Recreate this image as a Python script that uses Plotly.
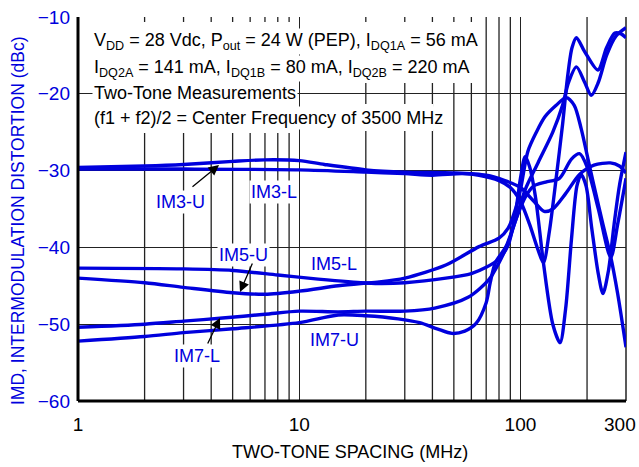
import plotly.graph_objects as go

# ---------------- data (MHz, dBc) ----------------
im3u_f = [1, 2, 3, 5, 7, 10, 13, 20, 30, 50, 70, 85, 100, 115, 128, 140, 160, 185, 215, 255, 280, 300]
im3u_db = [-29.6, -29.4, -29.2, -28.8, -28.6, -28.7, -29.2, -29.9, -30.2, -30.3, -30.6, -31.3, -32.2, -34.0,
           -35.3, -35.0, -33.0, -30.5, -29.3, -29.0, -29.4, -30.3]

im3l_f = [1, 3, 10, 20, 30, 40, 55, 65, 80, 90, 100, 110, 120, 127, 135, 145, 155, 163, 171, 179, 195, 224, 245,
          267, 285, 300]
im3l_db = [-29.8, -29.8, -29.9, -30.2, -30.4, -30.6, -30.4, -30.6, -31.3, -32.2, -34.0, -37.0, -40.3, -42.0,
           -38.0, -31.0, -24.0, -18.0, -14.0, -12.7, -14.5, -16.9, -14.0, -12.1, -12.2, -12.7]

im5u_f = [1, 2, 3, 5, 7, 10, 15, 19, 23, 30, 46, 65, 80, 88, 95, 100, 108, 118, 129, 145, 161, 175, 188, 202,
          215, 236, 255, 275, 300]
im5u_db = [-44.0, -44.6, -45.2, -45.9, -46.1, -45.7, -45.0, -44.7, -44.5, -44.0, -42.3, -39.9, -38.8, -37.5,
           -35.0, -32.5, -27.5, -25.0, -23.0, -21.5, -20.5, -21.5, -24.5, -28.5, -32.0, -37.0, -41.0, -46.0, -53.0]

im5l_f = [1, 3, 5, 8, 11, 19, 23, 30, 46, 60, 70, 80, 88, 95, 100, 105, 110, 117, 127, 140, 151, 160, 170, 180,
          188, 198, 210, 225, 236, 250, 265, 280, 300]
im5l_db = [-42.7, -42.8, -43.0, -43.6, -44.0, -44.6, -44.7, -44.6, -44.0, -43.4, -42.6, -41.5, -39.7, -35.5,
           -31.0, -28.2, -29.5, -33.5, -42.0, -50.0, -52.4, -48.0, -39.0, -32.0, -30.5, -32.0, -37.5, -43.5,
           -46.0, -43.0, -37.0, -32.0, -27.6]

im7l_f = [1, 2, 3, 4.5, 7, 10, 15, 20, 30, 41, 58, 72, 80, 88, 95, 105, 120, 140, 155, 165, 179, 195, 209, 225,
          245, 270, 300]
im7l_db = [-50.4, -50.0, -49.6, -49.2, -48.7, -48.3, -48.4, -48.3, -48.3, -47.9, -46.5, -44.2, -42.0, -39.4,
           -36.5, -32.5, -29.0, -25.0, -21.5, -18.5, -16.5, -18.5, -20.2, -18.5, -15.0, -12.5, -11.4]

im7u_f = [1, 2, 3, 5, 10, 15, 20, 28, 35, 42, 49, 56, 63, 70, 73, 77, 86, 95, 105, 115, 130, 150, 170, 185, 200,
          225, 256, 275, 300]
im7u_db = [-52.2, -51.6, -51.1, -50.6, -49.8, -48.8, -48.9, -49.3, -49.8, -50.6, -51.2, -50.9, -49.9, -47.2,
           -44.6, -42.0, -39.9, -36.5, -33.5, -32.0, -31.5, -31.0, -28.5, -27.8, -29.5, -35.0, -41.3, -37.0, -31.0]

x_tickvals = [1, 10, 100]
x_ticktext = ["1", "10", "100"]
x_last_tick = "300"
x_grid = [2, 3, 4, 5, 6, 7, 8, 9, 20, 30, 40, 50, 60, 70, 80, 90, 200]
y_tickvals = [-10, -20, -30, -40, -50, -60]

series = [
    ("IM3-U", im3u_f, im3u_db), ("IM3-L", im3l_f, im3l_db),
    ("IM5-U", im5u_f, im5u_db), ("IM5-L", im5l_f, im5l_db),
    ("IM7-U", im7u_f, im7u_db), ("IM7-L", im7l_f, im7l_db),
]

BLUE = "#0000dd"
FONT = "Liberation Sans Narrow, Arial Narrow, Liberation Sans, Arial, sans-serif"

fig = go.Figure()
for name, f, db in series:
    fig.add_trace(go.Scatter(x=f, y=db, mode="lines", name=name,
                             line=dict(color=BLUE, width=3.4, shape="spline", smoothing=0.8),
                             showlegend=False, hoverinfo="skip"))

# Plot area: x 78..626, y 17..401 (pixels)
L, R, T, B = 78, 626, 17, 401
W, H = R - L, B - T


def px(xp):
    return (xp - L) / W


def py(yp):
    return (B - yp) / H


shapes = []
for g in x_grid:
    shapes.append(dict(type="line", xref="x", yref="paper", x0=g, x1=g, y0=0, y1=1,
                       line=dict(color="#222222", width=1.3), layer="below"))
# right border (x = 300 grid line)
shapes.append(dict(type="line", xref="paper", yref="paper", x0=1, x1=1, y0=0, y1=1,
                   line=dict(color="#222222", width=1.5), layer="below"))
# white masks behind the text block (cover grid, under traces)
shapes.append(dict(type="rect", xref="paper", yref="paper", x0=px(L + 2), x1=px(297), y0=py(133), y1=py(22),
                   fillcolor="white", line=dict(width=0), layer="between"))
shapes.append(dict(type="rect", xref="paper", yref="paper", x0=px(297), x1=px(480), y0=py(83), y1=py(22),
                   fillcolor="white", line=dict(width=0), layer="between"))
shapes.append(dict(type="rect", xref="paper", yref="paper", x0=px(297), x1=px(433), y0=py(131), y1=py(104),
                   fillcolor="white", line=dict(width=0), layer="between"))
# frame (left & bottom thick)
shapes.append(dict(type="line", xref="paper", yref="paper", x0=0, x1=0, y0=0, y1=1,
                   line=dict(color="black", width=3), layer="above"))
shapes.append(dict(type="line", xref="paper", yref="paper", x0=0, x1=1, y0=0, y1=0,
                   line=dict(color="black", width=3), layer="above"))

fig.update_layout(
    width=639, height=467,
    margin=dict(l=L, r=639 - R, t=T, b=467 - B, autoexpand=False),
    paper_bgcolor="white", plot_bgcolor="white",
    shapes=shapes,
    xaxis=dict(type="log", range=[0, 2.4771], tickvals=x_tickvals, ticktext=x_ticktext, automargin=False,
               showgrid=True, gridcolor="#222222", gridwidth=1.3, zeroline=False, showline=False,
               ticks="", ticklabelstandoff=10,
               tickfont=dict(family=FONT, size=19, color="black")),
    yaxis=dict(range=[-60, -10], tickvals=y_tickvals, showgrid=True, gridcolor="#222222", gridwidth=1.3,
               zeroline=False, showline=False, ticks="", ticklabelstandoff=7, automargin=False,
               tickfont=dict(family=FONT, size=19, color=BLUE)),
)

ann = []
# last x tick label, kept inside the page
ann.append(dict(text=x_last_tick, xref="paper", yref="paper", x=px(638), y=py(424),
                xanchor="right", yanchor="middle", showarrow=False,
                font=dict(family=FONT, size=19, color="black")))
# axis titles placed as annotations for exact positioning
ann.append(dict(text="TWO-TONE SPACING (MHz)", xref="paper", yref="paper", x=px(350), y=py(452),
                xanchor="center", yanchor="middle", showarrow=False,
                font=dict(family=FONT, size=18, color="black")))
ann.append(dict(text="IMD, INTERMODULATION DISTORTION (dBc)", xref="paper", yref="paper", x=px(18), y=py(221),
                xanchor="center", yanchor="middle", showarrow=False, textangle=-90,
                font=dict(family=FONT, size=17.5, color=BLUE)))

info = [
    ("V<sub>DD</sub> = 28 Vdc, P<sub>out</sub> = 24 W (PEP), I<sub>DQ1A</sub> = 56 mA", 42),
    ("I<sub>DQ2A</sub> = 141 mA, I<sub>DQ1B</sub> = 80 mA, I<sub>DQ2B</sub> = 220 mA", 68),
    ("Two-Tone Measurements", 93),
    ("(f1 + f2)/2 = Center Frequency of 3500 MHz", 118),
]
for txt, yy in info:
    ann.append(dict(text=txt, xref="paper", yref="paper", x=px(92), y=py(yy), xanchor="left", yanchor="middle",
                    showarrow=False, font=dict(family=FONT, size=18, color="black"),
                    bgcolor="white", borderpad=1))

labels = [("IM3-U", 180, 202), ("IM3-L", 274, 192), ("IM5-U", 243, 255), ("IM5-L", 334, 264),
          ("IM7-L", 197, 356), ("IM7-U", 334, 340)]
for txt, xx, yy in labels:
    ann.append(dict(text=txt, xref="paper", yref="paper", x=px(xx), y=py(yy), xanchor="center",
                    yanchor="middle", showarrow=False, font=dict(family=FONT, size=18, color=BLUE),
                    bgcolor="white", borderpad=1))

arrows = [((191, 188), (219, 165)), ((253, 262), (240, 292)), ((207, 345), (220, 318))]
for (tx, ty), (hx, hy) in arrows:
    ann.append(dict(text="", xref="paper", yref="paper", x=px(hx), y=py(hy), ax=tx - hx, ay=ty - hy,
                    showarrow=True, arrowhead=2, arrowsize=1.6, arrowwidth=1.3, arrowcolor="black",
                    standoff=0, startstandoff=0))
fig.update_layout(annotations=ann)

fig.write_html("out.html")
